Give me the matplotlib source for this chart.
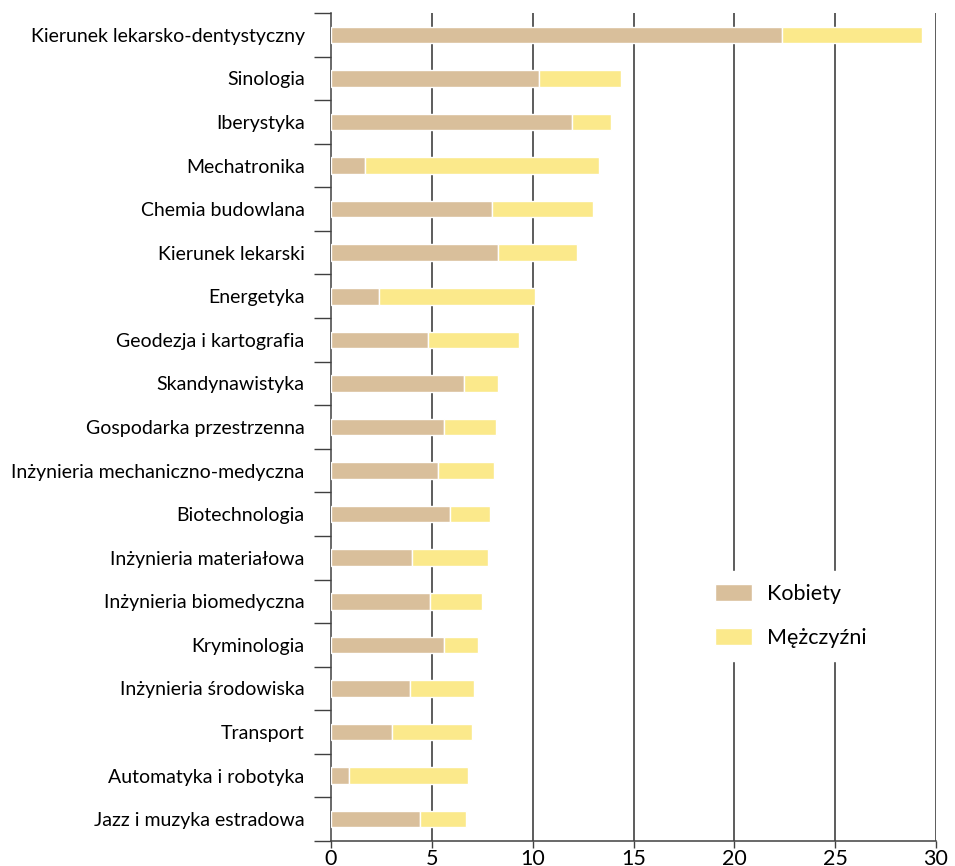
import matplotlib
matplotlib.use("Agg")
import matplotlib.pyplot as plt
import numpy as np

categories = [
    "Kierunek lekarsko-dentystyczny", "Sinologia", "Iberystyka", "Mechatronika",
    "Chemia budowlana", "Kierunek lekarski", "Energetyka", "Geodezja i kartografia",
    "Skandynawistyka", "Gospodarka przestrzenna", "Inżynieria mechaniczno-medyczna",
    "Biotechnologia", "Inżynieria materiałowa", "Inżynieria biomedyczna",
    "Kryminologia", "Inżynieria środowiska", "Transport", "Automatyka i robotyka",
    "Jazz i muzyka estradowa",
]
kobiety = [22.35, 10.3, 11.95, 1.7, 8.0, 8.3, 2.4, 4.8, 6.6, 5.6, 5.3, 5.9, 4.0, 4.9, 5.6, 3.9, 3.0, 0.9, 4.4]
mezczyzni = [6.95, 4.1, 1.95, 11.6, 5.0, 3.9, 7.7, 4.5, 1.7, 2.6, 2.8, 2.0, 3.8, 2.6, 1.7, 3.2, 4.0, 5.9, 2.3]
xticks = [0, 5, 10, 15, 20, 25, 30]

plt.rcParams['font.family'] = ['Lato', 'DejaVu Sans']

fig = plt.figure(figsize=(9.55, 8.66), dpi=100)
ax = fig.add_axes([331/955, 25/866, 605/955, 828/866])

y = np.arange(len(categories))
c_k = "#D9BF9B"
c_m = "#FBE98B"
ax.barh(y, kobiety, height=0.38, color=c_k, edgecolor="white", linewidth=1, label="Kobiety", zorder=3)
ax.barh(y, mezczyzni, left=kobiety, height=0.38, color=c_m, edgecolor="white", linewidth=1, label="Mężczyźni", zorder=3)

ax.set_xlim(0, 30)
ax.set_ylim(len(categories) - 0.5, -0.5)

ax.set_xticks(xticks)
ax.set_xticklabels([str(t) for t in xticks], fontsize=15.5)
ax.tick_params(axis='x', length=5, width=1, color="#404040", pad=1)

ax.set_yticks(np.arange(len(categories) + 1) - 0.5)
ax.set_yticklabels([])
ax.set_yticks(y, minor=True)
ax.set_yticklabels(categories, minor=True, fontsize=14)
ax.tick_params(axis='y', which='major', length=12, width=1, color="#404040")
ax.tick_params(axis='y', which='minor', length=0, pad=19)

for t in xticks[1:]:
    ax.axvline(t, color="#303030", linewidth=1.1, zorder=1)

for s in ['top', 'right']:
    ax.spines[s].set_visible(False)
for s in ['left', 'bottom']:
    ax.spines[s].set_color("#404040")
    ax.spines[s].set_linewidth(1.1)

leg = ax.legend(loc="upper left", bbox_to_anchor=(0.595, 0.339), frameon=True, fontsize=15.5,
                handlelength=1.72, handleheight=0.84, labelspacing=1.1, handletextpad=0.7,
                borderpad=0.6, edgecolor="white", facecolor="white", framealpha=1, fancybox=False)
leg.set_zorder(5)

fig.savefig("out.png", dpi=100)
